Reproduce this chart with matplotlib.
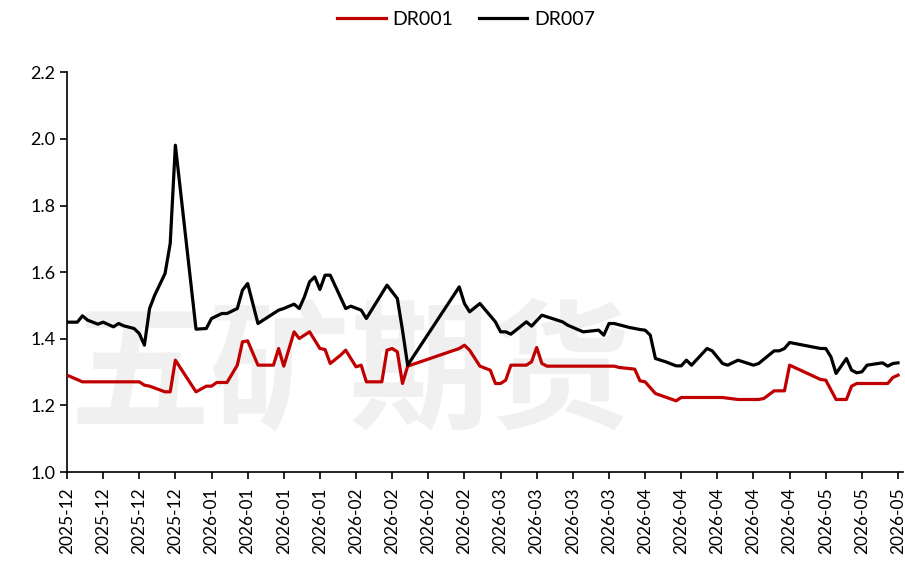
import pandas as pd
import matplotlib
matplotlib.use("Agg")
import matplotlib.pyplot as plt
import matplotlib.dates as mdates

plt.rcParams['font.family'] = ['Lato', 'DejaVu Sans']

# DR007 turning points
dr007_dates = [
    '2025-12-10', '2025-12-12', '2025-12-13', '2025-12-14', '2025-12-16', '2025-12-17',
    '2025-12-18', '2025-12-19', '2025-12-20', '2025-12-21', '2025-12-23', '2025-12-24',
    '2025-12-25', '2025-12-26', '2025-12-27', '2025-12-29', '2025-12-30', '2025-12-31',
    '2026-01-04', '2026-01-06', '2026-01-07', '2026-01-09', '2026-01-10', '2026-01-12',
    '2026-01-13', '2026-01-14', '2026-01-15', '2026-01-16', '2026-01-18', '2026-01-20',
    '2026-01-21', '2026-01-23', '2026-01-24', '2026-01-25', '2026-01-26', '2026-01-27',
    '2026-01-28', '2026-01-29', '2026-01-30', '2026-02-02', '2026-02-03', '2026-02-05',
    '2026-02-06', '2026-02-10', '2026-02-12', '2026-02-13', '2026-02-14', '2026-02-24',
    '2026-02-25', '2026-02-26', '2026-02-28', '2026-03-03', '2026-03-04', '2026-03-05',
    '2026-03-06', '2026-03-09', '2026-03-10', '2026-03-12', '2026-03-13', '2026-03-16',
    '2026-03-17', '2026-03-20', '2026-03-23', '2026-03-24', '2026-03-25', '2026-03-26',
    '2026-03-29', '2026-03-31', '2026-04-01', '2026-04-02', '2026-04-03', '2026-04-05',
    '2026-04-07', '2026-04-08', '2026-04-09', '2026-04-10', '2026-04-13', '2026-04-14',
    '2026-04-16', '2026-04-17', '2026-04-19', '2026-04-22', '2026-04-23', '2026-04-26',
    '2026-04-27', '2026-04-28', '2026-04-29', '2026-05-05', '2026-05-06', '2026-05-07',
    '2026-05-08', '2026-05-10', '2026-05-11', '2026-05-12', '2026-05-13', '2026-05-14',
    '2026-05-17', '2026-05-18', '2026-05-19', '2026-05-20',
]
dr007_values = [
    1.450, 1.450, 1.469, 1.456, 1.444, 1.450,
    1.443, 1.436, 1.446, 1.439, 1.431, 1.416,
    1.381, 1.491, 1.531, 1.596, 1.686, 1.981,
    1.429, 1.431, 1.461, 1.476, 1.476, 1.491,
    1.546, 1.566, 1.506, 1.446, 1.466, 1.486,
    1.491, 1.504, 1.491, 1.526, 1.571, 1.586,
    1.548, 1.591, 1.591, 1.491, 1.498, 1.486,
    1.461, 1.561, 1.521, 1.426, 1.321, 1.556,
    1.506, 1.481, 1.506, 1.451, 1.421, 1.421,
    1.414, 1.451, 1.438, 1.471, 1.466, 1.451,
    1.441, 1.421, 1.426, 1.411, 1.446, 1.446,
    1.434, 1.428, 1.426, 1.411, 1.341, 1.331,
    1.319, 1.319, 1.336, 1.321, 1.371, 1.364,
    1.326, 1.321, 1.336, 1.321, 1.326, 1.364,
    1.364, 1.371, 1.389, 1.371, 1.371, 1.346,
    1.296, 1.341, 1.306, 1.298, 1.301, 1.321,
    1.328, 1.318, 1.326, 1.328,
]

# DR001 turning points
dr001_dates = [
    '2025-12-10', '2025-12-13', '2025-12-24', '2025-12-25', '2025-12-26', '2025-12-29',
    '2025-12-30', '2025-12-31', '2026-01-04', '2026-01-06', '2026-01-07', '2026-01-08',
    '2026-01-10', '2026-01-12', '2026-01-13', '2026-01-14', '2026-01-16', '2026-01-19',
    '2026-01-20', '2026-01-21', '2026-01-23', '2026-01-24', '2026-01-26', '2026-01-28',
    '2026-01-29', '2026-01-30', '2026-02-01', '2026-02-02', '2026-02-04', '2026-02-05',
    '2026-02-06', '2026-02-09', '2026-02-10', '2026-02-11', '2026-02-12', '2026-02-13',
    '2026-02-14', '2026-02-24', '2026-02-25', '2026-02-26', '2026-02-28', '2026-03-02',
    '2026-03-03', '2026-03-04', '2026-03-05', '2026-03-06', '2026-03-09', '2026-03-10',
    '2026-03-11', '2026-03-12', '2026-03-13', '2026-03-26', '2026-03-27', '2026-03-30',
    '2026-03-31', '2026-04-01', '2026-04-03', '2026-04-07', '2026-04-08', '2026-04-16',
    '2026-04-19', '2026-04-23', '2026-04-24', '2026-04-26', '2026-04-28', '2026-04-29',
    '2026-05-05', '2026-05-06', '2026-05-08', '2026-05-10', '2026-05-11', '2026-05-12',
    '2026-05-18', '2026-05-19', '2026-05-20',
]
dr001_values = [
    1.291, 1.271, 1.271, 1.261, 1.258, 1.241,
    1.241, 1.336, 1.241, 1.258, 1.258, 1.269,
    1.269, 1.321, 1.391, 1.394, 1.321, 1.321,
    1.371, 1.318, 1.421, 1.401, 1.421, 1.371,
    1.368, 1.326, 1.351, 1.366, 1.316, 1.321,
    1.271, 1.271, 1.366, 1.371, 1.361, 1.266,
    1.318, 1.371, 1.381, 1.366, 1.318, 1.306,
    1.266, 1.266, 1.276, 1.321, 1.321, 1.331,
    1.374, 1.326, 1.318, 1.318, 1.314, 1.309,
    1.274, 1.271, 1.236, 1.214, 1.224, 1.224,
    1.218, 1.218, 1.221, 1.244, 1.244, 1.321,
    1.278, 1.276, 1.218, 1.218, 1.258, 1.266,
    1.266, 1.284, 1.291,
]

fig = plt.figure(figsize=(9.05, 5.73), dpi=100)
ax = fig.add_axes([0.074, 0.176, 0.924, 0.698])

# watermark
ax.text(0.338, 0.24, '五矿期货', transform=ax.transAxes, ha='center', va='center',
        fontsize=101, fontweight='bold', color='#F0F0F0',
        family=['Noto Sans CJK SC', 'DejaVu Sans'], zorder=0)

ax.plot(pd.to_datetime(dr001_dates), dr001_values, color='#C00000', lw=2.3,
        label='DR001', zorder=3, solid_joinstyle='round')
ax.plot(pd.to_datetime(dr007_dates), dr007_values, color='black', lw=2.3,
        label='DR007', zorder=3, solid_joinstyle='round')

ax.set_ylim(1.0, 2.2)
ax.set_yticks([1.0, 1.2, 1.4, 1.6, 1.8, 2.0, 2.2])
ax.yaxis.set_major_formatter(plt.FormatStrFormatter('%.1f'))
ax.set_xlim(pd.Timestamp('2025-12-10'), pd.Timestamp('2026-05-21'))
ax.xaxis.set_major_locator(mdates.WeekdayLocator(byweekday=mdates.WE))
ax.xaxis.set_major_formatter(mdates.DateFormatter('%Y-%m'))

for side in ['top', 'right']:
    ax.spines[side].set_visible(False)
for side in ['left', 'bottom']:
    ax.spines[side].set_linewidth(1.2)
ax.tick_params(axis='both', direction='out', length=5, width=1.2, labelsize=13)
ax.tick_params(axis='x', labelrotation=90, labelsize=12.5, pad=6)

fig.legend(loc='upper center', bbox_to_anchor=(0.515, 1.012), ncol=2, frameon=False,
           fontsize=14, handlelength=2.5, handletextpad=0.35, columnspacing=1.3)

fig.savefig('out.png', dpi=100)
